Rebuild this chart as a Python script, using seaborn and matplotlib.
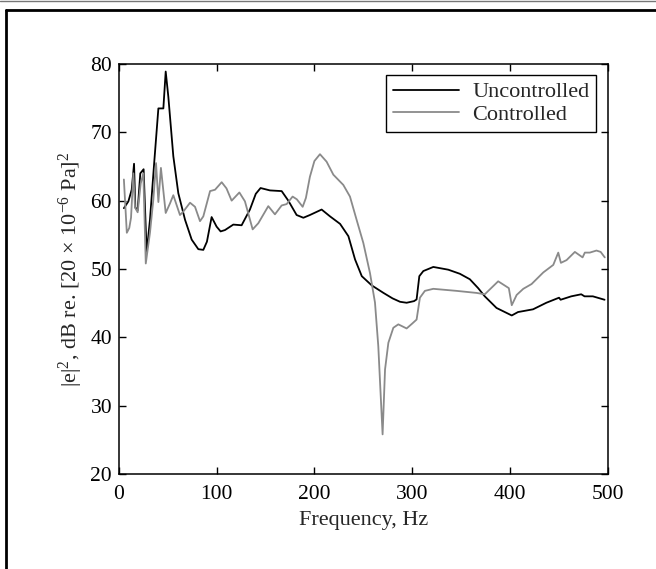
import numpy as np
import pandas as pd
import matplotlib
matplotlib.use("Agg")
import matplotlib.pyplot as plt
from matplotlib.lines import Line2D
import seaborn as sns

# ---- data ----
freq_unc = [5, 9.6, 13, 15.4, 16.7, 19.1, 21.8, 25.2, 28.3, 31.7, 36, 40.3, 45.4, 47.8,
            50.5, 55.6, 60.7, 67.6, 74.4, 81.2, 86.3, 90, 94.8, 99.9, 104, 108.5, 117,
            125.5, 134, 140, 144.9, 154.5, 166.5, 173.3, 181.8, 188.7, 195.4, 207.4, 216,
            226.3, 234.8, 241.6, 248.5, 258.7, 270.7, 280, 287.7, 294.4, 302, 304.6, 307.4,
            311.5, 321.7, 337, 348.9, 359.1, 367.6, 374.4, 386.4, 402, 408.4, 423.8, 437.4,
            450.4, 452, 462.9, 473.1, 476.5, 485, 497]
uncontrolled = [58.9, 59.9, 61.6, 65.4, 59.0, 58.6, 64.0, 64.6, 52.4, 57.2, 65.5, 73.5, 73.5, 78.9,
                75.2, 66.5, 61.1, 57.2, 54.3, 52.9, 52.8, 54.0, 57.6, 56.2, 55.5, 55.7, 56.5,
                56.4, 58.7, 61.0, 61.85, 61.5, 61.4, 60.0, 57.9, 57.5, 57.9, 58.7, 57.7,
                56.6, 54.8, 51.4, 48.95, 47.6, 46.5, 45.7, 45.2, 45.06, 45.3, 45.55, 48.95,
                49.7, 50.3, 49.9, 49.3, 48.5, 47.2, 46.0, 44.3, 43.2, 43.7, 44.1, 45.06,
                45.8, 45.5, 46.0, 46.3, 46.0, 46.0, 45.5]

freq_ctl = [5, 8, 10.5, 12.3, 14.7, 16.4, 19.1, 22.2, 24.9, 27.4, 31.7, 35.1, 37.9, 40.3,
            42.9, 47.8, 52.2, 55.6, 62.4, 65.8, 72.7, 77.8, 82.9, 86.3, 93.2, 98.3, 105.1,
            110, 115.3, 123.2, 128.9, 136.8, 142.6, 152.8, 159.6, 166.5, 171.6, 177.7, 182,
            188, 191.3, 195.4, 200, 205.7, 212.5, 219.4, 229.6, 236.4, 243.2, 250.1, 256.9,
            262, 265.4, 269.8, 272.3, 275.7, 280.8, 285.9, 294.4, 300, 304.6, 308, 313.1,
            321.7, 345.5, 365.9, 374.4, 388.1, 399, 402, 407, 413.8, 422.3, 434.3, 444.5,
            449.6, 452.3, 458.1, 466.6, 474.5, 476.8, 481.9, 488.7, 493, 497.2]
controlled = [63.1, 55.3, 56.0, 57.5, 64.0, 59.0, 58.3, 62.5, 64.0, 50.8, 55.3, 60.1, 65.5, 59.8,
              64.8, 58.2, 59.6, 60.8, 57.9, 58.4, 59.7, 59.1, 57.0, 57.7, 61.4, 61.6, 62.7,
              61.8, 60.0, 61.2, 59.9, 55.8, 56.7, 59.2, 58.0, 59.3, 59.5, 60.6, 60.2,
              59.1, 60.4, 63.5, 65.8, 66.8, 65.7, 63.8, 62.3, 60.6, 57.2, 53.8, 49.4,
              45.1, 38.7, 25.8, 35.3, 39.2, 41.4, 41.9, 41.3, 42.0, 42.6, 45.8, 46.8,
              47.1, 46.8, 46.5, 46.3, 48.2, 47.2, 44.7, 46.2, 47.1, 47.8, 49.5, 50.6,
              52.4, 50.9, 51.3, 52.5, 51.7, 52.4, 52.4, 52.7, 52.5, 51.7]

series_names = ["Uncontrolled", "Controlled"]
x_ticks = [0, 100, 200, 300, 400, 500]
y_ticks = [20, 30, 40, 50, 60, 70, 80]

df = pd.concat([
    pd.DataFrame({"Frequency": freq_unc, "Level": uncontrolled, "Series": series_names[0]}),
    pd.DataFrame({"Frequency": freq_ctl, "Level": controlled, "Series": series_names[1]}),
], ignore_index=True)

sns.set_style("ticks")
plt.rcParams["font.family"] = ["Liberation Serif", "DejaVu Serif"]
plt.rcParams["mathtext.fontset"] = "custom"
plt.rcParams["mathtext.rm"] = "Liberation Serif"
plt.rcParams["mathtext.it"] = "Liberation Serif:italic"
plt.rcParams["mathtext.bf"] = "Liberation Serif:bold"

FS = 16
TFS = 15.5

fig = plt.figure(figsize=(6.56, 5.69), dpi=100)
ax = fig.add_axes([119 / 656, 1 - 474 / 569, (607.5 - 119) / 656, (474 - 64) / 569])

sns.lineplot(data=df, x="Frequency", y="Level", hue="Series",
             palette={"Uncontrolled": "#000000", "Controlled": "#8a8a8a"},
             estimator=None, sort=False, linewidth=1.3, ax=ax, legend=False)

ax.set_xlim(0, 500)
ax.set_ylim(20, 80)
ax.set_xticks(x_ticks)
ax.set_yticks(y_ticks)
ax.tick_params(direction="in", length=5, width=1, top=True, right=True,
               labelsize=TFS, colors="black")
ax.tick_params(axis="x", pad=8)
ax.tick_params(axis="y", pad=5)
for s in ax.spines.values():
    s.set_visible(True)
    s.set_color("black")
    s.set_linewidth(1.1)
ax.set_xlabel("Frequency, Hz", fontsize=FS, labelpad=5)
ax.set_ylabel(r"|e|$^2$, dB re. [20 $\times$ 10$^{-6}$ Pa]$^2$", fontsize=FS, labelpad=4)

handles = [Line2D([], [], color="#000000", lw=1.3), Line2D([], [], color="#8a8a8a", lw=1.3)]
leg = ax.legend(handles, series_names, loc="upper right", fontsize=FS, frameon=True,
                fancybox=False, edgecolor="black", handlelength=3.0, borderaxespad=0.5,
                borderpad=0.3, labelspacing=0.1, handletextpad=0.6)
leg.get_frame().set_linewidth(1.0)
leg.get_frame().set_alpha(1)

# outer frame (top and left edges) as in the reference
fig.add_artist(Line2D([0, 1], [1 - 0.5 / 569, 1 - 0.5 / 569], transform=fig.transFigure,
                      color="#777777", lw=1))
fig.add_artist(Line2D([6 / 656, 1], [1 - 10 / 569, 1 - 10 / 569], transform=fig.transFigure,
                      color="black", lw=2))
fig.add_artist(Line2D([6 / 656, 6 / 656], [0, 1 - 10 / 569], transform=fig.transFigure,
                      color="black", lw=2))

fig.savefig("out.png", dpi=100)
